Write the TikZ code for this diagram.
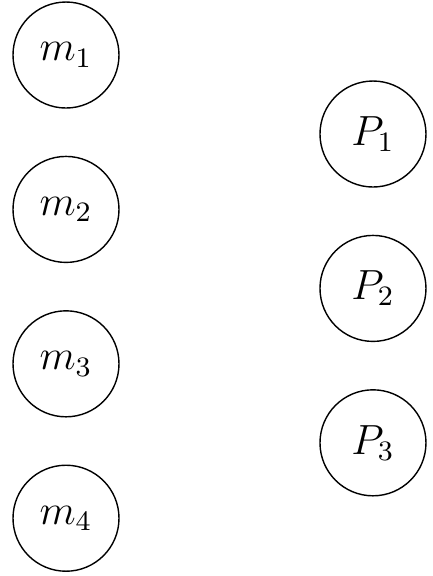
\documentclass[tikz,border=0pt]{standalone}
\usetikzlibrary{positioning}

\begin{document}
\begin{tikzpicture}[node distance=0.47cm]
  \tikzset{unit/.style={draw, circle, minimum size=1.06cm, inner sep=0pt, font=\large}}
  \useasboundingbox (0,0) rectangle (4.33,-5.76);
  % machines
  \node[unit] (m1) at (0.66,-0.55) {$m_1$};
  \node[unit, below=of m1] (m2) {$m_2$};
  \node[unit, below=of m2] (m3) {$m_3$};
  \node[unit, below=of m3] (m4) {$m_4$};
  % processors
  \node[unit] (p1) at (3.73,-1.34) {$P_1$};
  \node[unit, below=of p1] (p2) {$P_2$};
  \node[unit, below=of p2] (p3) {$P_3$};
\end{tikzpicture}
\end{document}
